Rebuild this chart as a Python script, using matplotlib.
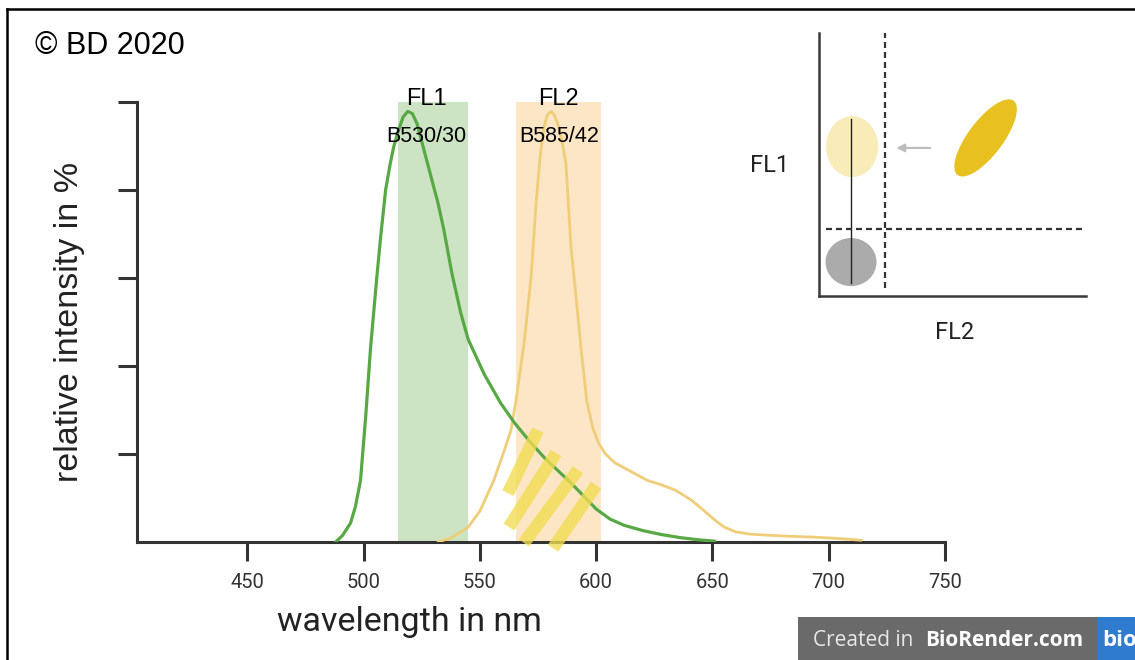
import matplotlib
matplotlib.use('Agg')
import matplotlib.pyplot as plt
from matplotlib.patches import Ellipse, Rectangle

plt.rcParams['font.family'] = ['Liberation Sans', 'DejaVu Sans']

# emission spectra (wavelength in nm, relative intensity in %)
green_wl = [488, 491, 494.4, 496.5, 498.7, 501, 503, 505.6, 507.3, 509.5, 511.5, 513, 515, 517,
            519, 521, 523, 525, 527, 529, 532, 534.5, 538, 541.8, 545, 552, 559, 565, 572, 578,
            584, 589, 594, 600, 606, 612, 620, 628, 636, 644, 651]
green_val = [0, 1.5, 4.3, 8, 14, 29, 44, 59.5, 69, 80, 86, 89.8, 93.5, 96.5,
             97.8, 97.3, 95, 91, 87, 83, 77, 71, 61, 52, 46, 38, 31.5, 27, 22.5, 19,
             16, 13.5, 10.8, 7.5, 5.2, 3.8, 2.6, 1.7, 1, 0.5, 0.2]

orange_wl = [532, 538, 545, 550, 556, 560, 563.4, 565.5, 569, 572, 574.2, 576, 577.5, 579, 580.6,
             582, 583.5, 585, 587, 589.2, 591.5, 593.5, 596, 598.5, 601, 604, 608, 615, 622, 628,
             634, 641, 646, 651, 655, 660, 666, 672, 683, 694, 704, 714]
orange_val = [0, 1, 3.4, 7, 14, 20, 25.4, 32, 45, 60, 77, 88, 94, 97, 97.8,
              97, 95, 92, 86, 67, 55, 44, 32, 26, 22.5, 20, 18, 16, 14, 13,
              11.8, 9.5, 7.3, 5, 3.4, 2.3, 1.8, 1.6, 1.3, 1.1, 0.8, 0.4]

# filter windows as drawn: (channel, filter name, lower nm, upper nm)
filters = [('FL1', 'B530/30', 515.0, 544.8), ('FL2', 'B585/42', 565.5, 602.0)]
label_x = [527, 584]

x_ticks = [450, 500, 550, 600, 650, 700, 750]
y_ticks = [20, 40, 60, 80, 100]

# spillover strokes (wavelength, intensity) start -> end
strokes = [((562.1, 11.1), (575.0, 25.4)),
           ((562.5, 3.4), (582.8, 20.2)),
           ((569.0, -0.2), (592.2, 16.4)),
           ((581.5, -1.4), (600.0, 12.9))]

fig = plt.figure(figsize=(11.35, 6.6), dpi=100)
ax = fig.add_axes([137/1135, 118/660, 808/1135, 440.3/660])

band_cols = ['#CCE4C4', '#FCE6C6']
for (fl, name, lo, hi), col in zip(filters, band_cols):
    ax.axvspan(lo, hi, ymin=0, ymax=1, color=col, lw=0, zorder=1)

ax.plot(orange_wl, orange_val, color='#F0CD78', lw=2.0, zorder=3, solid_capstyle='round')
ax.plot(green_wl, green_val, color='#58A845', lw=2.3, zorder=4, solid_capstyle='round')

for (x0, y0), (x1, y1) in strokes:
    ax.plot([x0, x1], [y0, y1], color='#F2DC50', alpha=0.78, lw=9,
            solid_capstyle='butt', zorder=5, clip_on=False)

for (fl, name, lo, hi), lx in zip(filters, label_x):
    ax.text(lx, 100.6, fl, ha='center', va='center', fontsize=17, zorder=6)
    ax.text(lx, 92.0, name, ha='center', va='center', fontsize=15.5, zorder=6)

ax.set_xlim(402.6, 750)
ax.set_ylim(0, 100)
for s in ['top', 'right']:
    ax.spines[s].set_visible(False)
for s in ['left', 'bottom']:
    ax.spines[s].set_color('#333333')
    ax.spines[s].set_linewidth(2.2)
ax.set_xticks(x_ticks)
ax.set_yticks(y_ticks)
ax.set_yticklabels([])
ax.tick_params(axis='both', length=14, width=2.2, color='#333333')
ax.tick_params(axis='x', labelsize=14.5, pad=8, labelcolor='#333333')
for lab in ax.get_xticklabels():
    lab.set_family(['Roboto', 'DejaVu Sans'])

ax.set_xlabel('wavelength in nm', fontsize=24.5, family=['Roboto', 'DejaVu Sans'], color='#222222')
ax.xaxis.set_label_coords((409 - 137) / 808, -0.145)
ax.set_ylabel('relative intensity in %', fontsize=24.5, color='#222222')
ax.yaxis.set_label_coords((85 - 137) / 808, 0.5)

# inset: FL1 vs FL2 dot plot sketch
ins = fig.add_axes([819/1135, 364/660, 267/1135, 263/660])
ins.set_xlim(0, 100)
ins.set_ylim(0, 100)
ins.set_xticks([])
ins.set_yticks([])
for s in ['top', 'right']:
    ins.spines[s].set_visible(False)
for s in ['left', 'bottom']:
    ins.spines[s].set_color('#3A3A3A')
    ins.spines[s].set_linewidth(1.8)
ins.patch.set_alpha(0)

ins.add_patch(Ellipse((12.4, 56.8), 19.5, 23.2, color='#FAECB8', lw=0))
ins.add_patch(Ellipse((12.0, 12.9), 19.1, 18.3, color='#ABABAB', lw=0))
ins.add_patch(Ellipse((62.4, 60.1), 35.2, 13.1, angle=53.5, color='#E8C020', lw=0))
ins.plot([12, 12], [4.9, 67.3], color='#222222', lw=1.0)
ins.plot([24.7, 24.7], [3, 100], color='#333333', lw=1.6, ls=(0, (2.7, 1.8)))
ins.plot([2.6, 100], [25.5, 25.5], color='#333333', lw=1.6, ls=(0, (2.7, 1.8)))
ins.annotate('', xy=(27.9, 56.3), xytext=(42.7, 56.3),
             arrowprops=dict(arrowstyle='-|>', color='#BDBDBD', lw=1.5, mutation_scale=12))
ins.text(-18.4, 49.5, 'FL1', ha='center', va='center', fontsize=17,
         family=['Roboto', 'DejaVu Sans'], color='#222222', clip_on=False)
ins.text(50.9, -14, 'FL2', ha='center', va='center', fontsize=17,
         family=['Roboto', 'DejaVu Sans'], color='#222222', clip_on=False)

# overlay in pixel coordinates: frame, copyright, badge
ov = fig.add_axes([0, 0, 1, 1], zorder=10)
ov.set_xlim(0, 1135)
ov.set_ylim(660, 0)
ov.axis('off')
ov.patch.set_alpha(0)
ov.plot([7, 1135], [9, 9], color='black', lw=1.8)
ov.plot([7, 7], [9, 660], color='black', lw=1.8)
ov.text(35, 46, '\u00a9 BD 2020', fontsize=22, ha='left', va='center', color='black')
ov.add_patch(Rectangle((798, 617), 299, 43, color='#6A6A6A', lw=0))
ov.add_patch(Rectangle((1097, 617), 38, 43, color='#2F7BD0', lw=0))
ov.text(813, 641, 'Created in', fontsize=15, ha='left', va='center', color='#E8E8E8',
        family=['Open Sans', 'DejaVu Sans'])
ov.text(1083, 641, 'BioRender.com', fontsize=15, ha='right', va='center', color='white',
        weight='bold', family=['Open Sans', 'DejaVu Sans'])
ov.text(1102, 640, 'bio', fontsize=16, ha='left', va='center', color='white',
        weight='bold', family=['Open Sans', 'DejaVu Sans'])

fig.savefig('out.png', dpi=100)
